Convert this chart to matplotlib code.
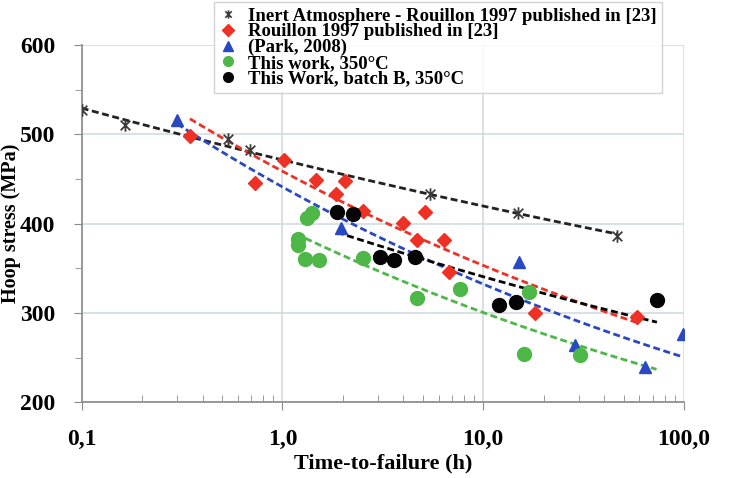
import matplotlib.pyplot as plt
import numpy as np
from matplotlib.path import Path
from matplotlib.lines import Line2D

# time to failure (h) / hoop stress (MPa)
inert_t = [0.10, 0.164, 0.535, 0.689, 5.43, 14.9, 46.3]
inert_s = [527, 510, 495, 482, 433, 412, 386]

rouillon_t = [0.346, 0.73, 1.02, 1.47, 1.85, 2.05, 2.52, 3.98, 4.68, 5.13, 6.37, 6.75, 18.1, 58.2]
rouillon_s = [498, 445, 471, 449, 433, 448, 414, 401, 382, 413, 382, 346, 300, 295]

park_t = [0.298, 1.96, 15.1, 28.6, 63.9, 98.8]
park_s = [516, 395, 357, 264, 240, 276]

work_t = [1.19, 1.19, 1.29, 1.32, 1.40, 1.52, 2.52, 4.68, 7.66, 15.9, 16.9, 30.3]
work_s = [383, 376, 360, 406, 412, 359, 361, 317, 327, 254, 323, 253]

batchb_t = [1.87, 2.24, 3.06, 3.59, 4.57, 11.97, 14.5, 73.3]
batchb_s = [413, 411, 363, 359, 363, 309, 312, 314]

labels = ["Inert Atmosphere - Rouillon 1997 published in [23]",
          "Rouillon 1997 published in [23]",
          "(Park, 2008)",
          "This work, 350°C",
          "This Work, batch B, 350°C"]

xticks = [0.1, 1, 10, 100]
xticklabels = ["0,1", "1,0", "10,0", "100,0"]
yticks = [200, 300, 400, 500, 600]

# power trendline ranges (h)
fit_range = {"work": (1.3, 73)}

plt.rcParams['font.family'] = ['Liberation Serif', 'DejaVu Serif']
plt.rcParams['font.weight'] = 'bold'

# excel style star: X plus a vertical bar
star = Path([(-1, -1), (1, 1), (-1, 1), (1, -1), (0, -1.3), (0, 1.3)],
            [Path.MOVETO, Path.LINETO, Path.MOVETO, Path.LINETO, Path.MOVETO, Path.LINETO])

red = "#ee3124"
blue = "#2a48c2"
green = "#4db748"
black = "#050505"
grey = "#3c3c3c"


def power_fit(t, s, rng=None):
    b, a = np.polyfit(np.log(t), np.log(s), 1)
    if rng is None:
        rng = (min(t), max(t))
    xx = np.geomspace(rng[0], rng[1], 100)
    return xx, np.exp(a) * xx ** b


fig = plt.figure(figsize=(7.34, 4.78), dpi=100)
ax = fig.add_axes([81.7 / 734, 1 - 402.3 / 478, (684 - 81.7) / 734, (402.3 - 45) / 478])

series = [
    (inert_t, inert_s, grey, star, 9, None),
    (rouillon_t, rouillon_s, red, "D", 7, None),
    (park_t, park_s, blue, "^", 9, None),
    (work_t, work_s, green, "o", 10, fit_range["work"]),
    (batchb_t, batchb_s, black, "o", 10, None),
]
line_cols = ["#222222", red, blue, green, black]

handles = []
for (t, s, c, m, ms, rng), lc, lab in zip(series, line_cols, labels):
    xx, yy = power_fit(t, s, rng)
    ax.plot(xx, yy, ls=(0, (2.5, 1.3)), color=lc, lw=2.0, zorder=2)
    if m is star:
        ax.plot(t, s, ls="none", marker=m, ms=ms, mec=c, mfc="none", mew=1.3, zorder=3)
        h = Line2D([], [], ls="none", marker=m, ms=6, mec=c, mfc="none", mew=1.2)
    else:
        ax.plot(t, s, ls="none", marker=m, ms=ms, color=c, mec=c, zorder=3)
        h = Line2D([], [], ls="none", marker=m, ms=7 if m != "D" else 6, color=c)
    handles.append(h)

ax.set_xscale("log")
ax.set_xlim(0.1, 100)
ax.set_ylim(200, 600)
ax.set_xticks(xticks)
ax.set_xticklabels(xticklabels)
ax.set_yticks(yticks)
ax.set_yticks(np.arange(250, 600, 100), minor=True)
ax.set_xticks([k * d for d in (0.1, 1, 10) for k in range(2, 10)], minor=True)
ax.xaxis.set_minor_formatter(plt.NullFormatter())

ax.grid(True, which="major", color="#d3dbe0", lw=1.2)
ax.set_axisbelow(True)
for sp in ("top", "right"):
    ax.spines[sp].set_visible(False)
for sp in ("left", "bottom"):
    ax.spines[sp].set_color("#8a8a8a")
    ax.spines[sp].set_linewidth(1.2)

ax.tick_params(axis="y", which="major", direction="out", length=6, color="#8a8a8a",
               labelsize=17, pad=13)
ax.tick_params(axis="y", which="minor", direction="out", length=5, color="#8a8a8a")
ax.tick_params(axis="x", which="major", direction="out", length=6, color="#8a8a8a",
               labelsize=17, pad=13)
ax.tick_params(axis="x", which="minor", direction="in", length=5, color="#8a8a8a")

ax.set_xlabel("Time-to-failure (h)", fontsize=16, fontweight="bold", va="center")
ax.xaxis.set_label_coords(0.5, -(463 - 402.3) / 357.3)
ax.set_ylabel("Hoop stress (MPa)", fontsize=14.5, fontweight="bold", va="center")
ax.yaxis.set_label_coords(-(81.7 - 11) / 602.3, 0.5)

leg = fig.legend(handles, labels, loc="upper left", bbox_to_anchor=(214 / 734, 1 - 2 / 478),
                 prop={"size": 13.5, "weight": "bold"}, frameon=True, fancybox=False,
                 edgecolor="#c8c8c8", handlelength=0.9, handletextpad=0.6,
                 labelspacing=-0.08, borderpad=0.3, borderaxespad=0)
leg.get_frame().set_linewidth(1.0)

fig.savefig("out.png", dpi=100)
